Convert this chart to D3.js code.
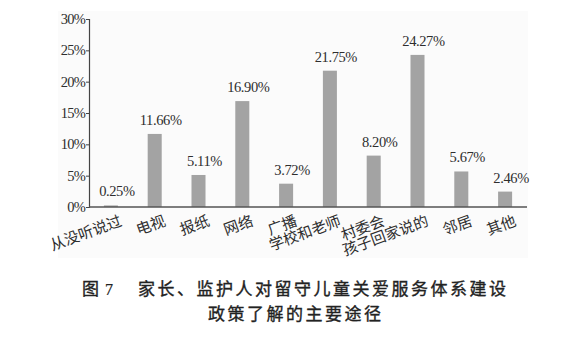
<!DOCTYPE html>
<html>
<head>
<meta charset="utf-8">
<script src="https://cdn.jsdelivr.net/npm/d3@7/dist/d3.min.js"></script>
<style>
  body { margin: 0; background: #fff; }
  svg { display: block; }
</style>
</head>
<body>
<div id="chart"></div>
<script>
// Data
const categories = ["从没听说过", "电视", "报纸", "网络", "广播", "学校和老师", "村委会", "孩子回家说的", "邻居", "其他"];
const shares = [0.25, 11.66, 5.11, 16.90, 3.72, 21.75, 8.20, 24.27, 5.67, 2.46];
const yTicks = [0, 5, 10, 15, 20, 25, 30];
const figureNo = ["图", "7"];
const captionLines = ["家长、监护人对留守儿童关爱服务体系建设", "政策了解的主要途径"];

const width = 564, height = 348;
const margin = { top: 19, left: 89, right: 37, bottom: 141 };
const serif = "'Liberation Serif', 'Times New Roman', serif";
const cjk = "'Noto Sans CJK SC', sans-serif";

const svg = d3.select("#chart").append("svg")
  .attr("width", width)
  .attr("height", height);

// faint panel behind the plot (scanned page tint)
svg.append("rect")
  .attr("x", 58).attr("y", 11)
  .attr("width", width - margin.right - 58 + 1)
  .attr("height", 247)
  .attr("fill", "#fbfbfb");

const x = d3.scaleBand()
  .domain(categories)
  .range([margin.left, width - margin.right])
  .paddingInner(0.68)
  .paddingOuter(0.34);

const y = d3.scaleLinear()
  .domain([0, 30])
  .range([height - margin.bottom, margin.top]);

// bars
svg.append("g").selectAll("rect")
  .data(shares)
  .join("rect")
  .attr("x", (d, i) => x(categories[i]))
  .attr("y", d => y(d))
  .attr("width", x.bandwidth())
  .attr("height", d => y(0) - y(d))
  .attr("fill", "#a3a3a3");

// value labels
svg.append("g").selectAll("text")
  .data(shares)
  .join("text")
  .attr("x", (d, i) => x(categories[i]) + x.bandwidth() / 2 + 6)
  .attr("y", d => y(d) - 9)
  .attr("text-anchor", "middle")
  .attr("font-family", serif)
  .attr("font-size", 14.5)
  .attr("letter-spacing", -0.4)
  .attr("fill", "#2e2e2e")
  .text(d => d.toFixed(2) + "%");

// y axis
const yAxis = svg.append("g")
  .attr("transform", `translate(${margin.left},0)`)
  .call(d3.axisLeft(y).tickValues(yTicks).tickSize(3).tickPadding(1).tickFormat(d => d + "%"));
yAxis.select(".domain").attr("stroke", "#444").attr("stroke-width", 1.2);
yAxis.selectAll(".tick line").attr("stroke", "#444");
yAxis.selectAll(".tick text")
  .attr("font-family", serif)
  .attr("font-size", 14.5)
  .attr("letter-spacing", -0.8)
  .attr("fill", "#2e2e2e");

// baseline
svg.append("line")
  .attr("x1", margin.left).attr("x2", width - margin.right)
  .attr("y1", y(0)).attr("y2", y(0))
  .attr("stroke", "#555")
  .attr("stroke-width", 1.4);

// rotated category labels
svg.append("g").selectAll("text")
  .data(categories)
  .join("text")
  .attr("transform", d => `translate(${x(d) + x.bandwidth() / 2 + 12},${y(0) + 18}) rotate(-20)`)
  .attr("text-anchor", "end")
  .attr("font-family", cjk)
  .attr("font-size", 15)
  .attr("fill", "#2e2e2e")
  .text(d => d);

// caption
const cap = svg.append("g")
  .attr("font-family", cjk)
  .attr("font-size", 17)
  .attr("fill", "#222")
  .attr("stroke", "#222")
  .attr("stroke-width", 0.35);

cap.append("text")
  .attr("x", 82).attr("y", 295)
  .text(figureNo[0])
  .append("tspan")
  .attr("dx", 6)
  .attr("font-family", serif)
  .attr("font-size", 16)
  .attr("stroke-width", 0.2)
  .text(figureNo[1]);

cap.selectAll("text.line")
  .data(captionLines)
  .join("text")
  .attr("class", "line")
  .attr("x", (d, i) => i === 0 ? 138 : 208)
  .attr("y", (d, i) => 295 + i * 25)
  .attr("letter-spacing", 2.5)
  .text(d => d);
</script>
</body>
</html>
